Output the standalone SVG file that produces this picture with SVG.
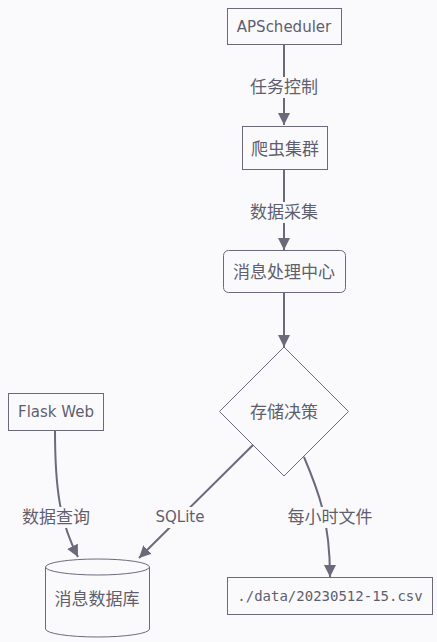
<svg xmlns="http://www.w3.org/2000/svg" width="437" height="642" viewBox="0 0 437 642">
<defs>
<style>
.bg{fill:#fafafc}
.node{fill:#fafafc;stroke:#6b6a7b;stroke-width:1}
.edge{fill:none;stroke:#6b6a7b;stroke-width:2}
.lbl{fill:#fafafc}
text{fill:#5f5e6e;font-family:"DejaVu Sans","Noto Sans CJK SC",sans-serif;font-size:15px;text-anchor:middle;dominant-baseline:central}
.cn{font-size:17px}
.mono{font-family:"DejaVu Sans Mono","Noto Sans CJK SC",monospace;font-size:14px}
</style>
<marker id="arr" viewBox="0 0 12 12" refX="12" refY="6" markerWidth="12" markerHeight="12" markerUnits="userSpaceOnUse" orient="auto">
<path d="M0,0 L12,6 L0,12 z" fill="#6b6a7b"/>
</marker>
</defs>
<rect class="bg" x="0" y="0" width="437" height="642"/>
<g id="connectors">
<path class="edge" d="M284,44 L284,125" marker-end="url(#arr)"/>
<path class="edge" d="M284,169 L284,250" marker-end="url(#arr)"/>
<path class="edge" d="M284,292 L284,347" marker-end="url(#arr)"/>
<path class="edge" d="M55,430 C55,490 60,522 78,557" marker-end="url(#arr)"/>
<path class="edge" d="M253,445 L139,558" marker-end="url(#arr)"/>
<path class="edge" d="M304,457 C318,490 330,520 330,577" marker-end="url(#arr)"/>
<g id="edge-labels">
<rect class="lbl" x="249" y="77" width="70" height="21"/>
<text class="cn" x="284" y="87">任务控制</text>
<rect class="lbl" x="249" y="202" width="70" height="21"/>
<text class="cn" x="284" y="212">数据采集</text>
<rect class="lbl" x="20" y="507" width="72" height="21"/>
<text class="cn" x="56" y="517">数据查询</text>
<rect class="lbl" x="154" y="507" width="52" height="21"/>
<text x="180" y="517">SQLite</text>
<rect class="lbl" x="285" y="507" width="90" height="21"/>
<text class="cn" x="330" y="517">每小时文件</text>
</g>
</g>
<g id="apscheduler">
<rect class="node" x="227.5" y="8.5" width="114" height="36"/>
<text x="284" y="27">APScheduler</text>
</g>
<g id="crawler">
<rect class="node" x="242.5" y="126.5" width="85" height="43"/>
<text class="cn" x="285" y="149">爬虫集群</text>
</g>
<g id="processor">
<rect class="node" x="223.5" y="250.5" width="122" height="42" rx="5" ry="5"/>
<text class="cn" x="284" y="272">消息处理中心</text>
</g>
<g id="decision">
<path class="node" d="M284,347 L348.5,411.5 L284,476 L219.5,411.5 Z"/>
<text class="cn" x="284" y="412">存储决策</text>
</g>
<g id="flask">
<rect class="node" x="8.5" y="393.5" width="95" height="37"/>
<text x="56" y="412">Flask Web</text>
</g>
<g id="database">
<path class="node" d="M45.5,567 L45.5,629 A52,8 0 0 0 149.5,629 L149.5,567 A52,8 0 0 0 45.5,567 A52,8 0 0 0 149.5,567"/>
<text class="cn" x="97" y="599">消息数据库</text>
</g>
<g id="csv">
<rect class="node" x="227.5" y="577.5" width="205" height="37"/>
<text class="mono" x="330" y="596">./data/20230512-15.csv</text>
</g>
</svg>
